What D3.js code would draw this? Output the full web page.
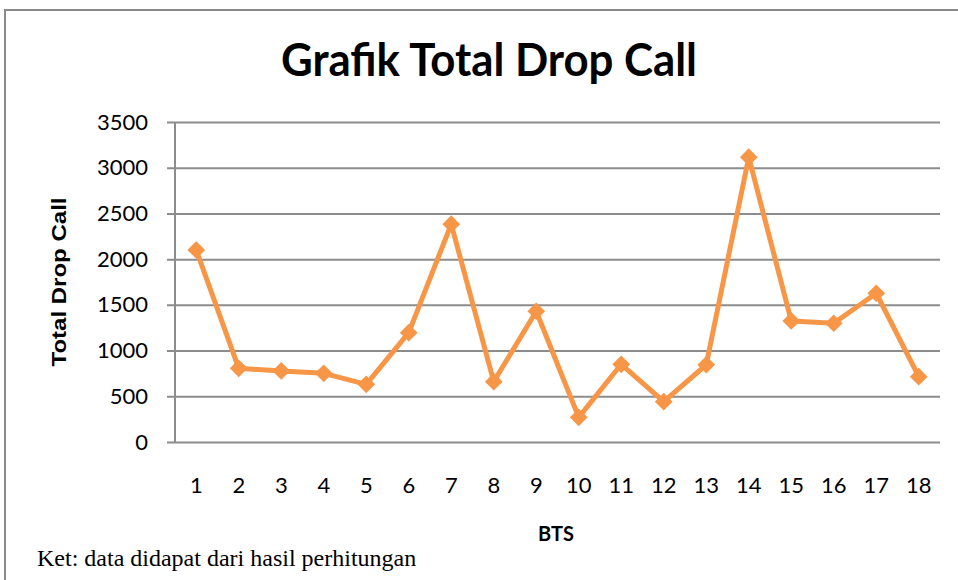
<!DOCTYPE html>
<html>
<head>
<meta charset="utf-8">
<script src="https://cdn.jsdelivr.net/npm/d3@7"></script>
<style>
  body { margin: 0; background: #fff; }
  svg { display: block; }
</style>
</head>
<body>
<div id="chart"></div>
<script>
// data
var bts = [1, 2, 3, 4, 5, 6, 7, 8, 9, 10, 11, 12, 13, 14, 15, 16, 17, 18];
var dropCall = [2100, 806, 777, 751, 631, 1196, 2382, 660, 1430, 270, 850, 441, 845, 3115, 1324, 1299, 1627, 715];
var yTicks = [0, 500, 1000, 1500, 2000, 2500, 3000, 3500];

var width = 958, height = 580;
var margin = {top: 122, right: 18, bottom: 138, left: 175};
var w = width - margin.left - margin.right,
    h = height - margin.top - margin.bottom;

var sans = "Lato, 'Open Sans', sans-serif";

var svg = d3.select("#chart").append("svg")
    .attr("width", width)
    .attr("height", height);

// outer frame
svg.append("rect")
    .attr("x", 5).attr("y", 10)
    .attr("width", 965).attr("height", 600)
    .attr("fill", "none")
    .attr("stroke", "#8a8a8a")
    .attr("stroke-width", 2);

var g = svg.append("g")
    .attr("transform", "translate(" + margin.left + "," + margin.top + ")");

var x = d3.scaleBand()
    .domain(bts)
    .range([0, w]);

var y = d3.scaleLinear()
    .domain([0, 3500])
    .range([h, 0]);

// horizontal gridlines + y axis
var yAxis = d3.axisLeft(y)
    .tickValues(yTicks)
    .tickFormat(d3.format("d"))
    .tickSize(-w)
    .tickPadding(27);

var yg = g.append("g").call(yAxis);
yg.select(".domain").remove();
yg.selectAll(".tick line")
    .attr("x1", -8)
    .attr("stroke", "#8c8c8c")
    .attr("stroke-width", 2);
yg.selectAll(".tick text")
    .attr("font-family", sans)
    .attr("font-size", 22)
    .attr("fill", "#000");

// vertical axis line
g.append("line")
    .attr("x1", 0).attr("x2", 0)
    .attr("y1", 0).attr("y2", h)
    .attr("stroke", "#8c8c8c")
    .attr("stroke-width", 2);

// x axis labels
var xAxis = d3.axisBottom(x)
    .tickSize(0)
    .tickPadding(35);
var xg = g.append("g")
    .attr("transform", "translate(0," + h + ")")
    .call(xAxis);
xg.select(".domain").remove();
xg.selectAll(".tick text")
    .attr("font-family", sans)
    .attr("font-size", 22)
    .attr("fill", "#000");

// line
var line = d3.line()
    .x(function(d, i) { return x(bts[i]) + x.bandwidth() / 2; })
    .y(function(d) { return y(d); });

g.append("path")
    .datum(dropCall)
    .attr("d", line)
    .attr("fill", "none")
    .attr("stroke", "#f79646")
    .attr("stroke-width", 5)
    .attr("stroke-linejoin", "round");

// diamond markers
var diamond = d3.symbol().type(d3.symbolDiamond2).size(200);
g.selectAll(".marker")
    .data(dropCall)
    .enter()
    .append("path")
    .attr("class", "marker")
    .attr("d", diamond)
    .attr("transform", function(d, i) {
      return "translate(" + (x(bts[i]) + x.bandwidth() / 2) + "," + y(d) + ")";
    })
    .attr("fill", "#f79646");

// title
svg.append("text")
    .attr("x", 489).attr("y", 76)
    .attr("text-anchor", "middle")
    .attr("font-family", sans)
    .attr("font-weight", "bold")
    .attr("font-size", 45)
    .attr("textLength", 416)
    .attr("lengthAdjust", "spacingAndGlyphs")
    .text("Grafik Total Drop Call");

// axis titles
svg.append("text")
    .attr("x", 556).attr("y", 541)
    .attr("text-anchor", "middle")
    .attr("font-family", sans)
    .attr("font-weight", "bold")
    .attr("font-size", 20)
    .text("BTS");

svg.append("text")
    .attr("transform", "translate(66,282) rotate(-90)")
    .attr("text-anchor", "middle")
    .attr("font-family", "'Liberation Sans', Arial, sans-serif")
    .attr("font-weight", "bold")
    .attr("font-size", 20)
    .attr("textLength", 169)
    .attr("lengthAdjust", "spacingAndGlyphs")
    .text("Total Drop Call");

// footnote
svg.append("text")
    .attr("x", 37).attr("y", 566)
    .attr("font-family", "'Liberation Serif', 'Times New Roman', serif")
    .attr("font-size", 24)
    .text("Ket: data didapat dari hasil perhitungan");
</script>
</body>
</html>
